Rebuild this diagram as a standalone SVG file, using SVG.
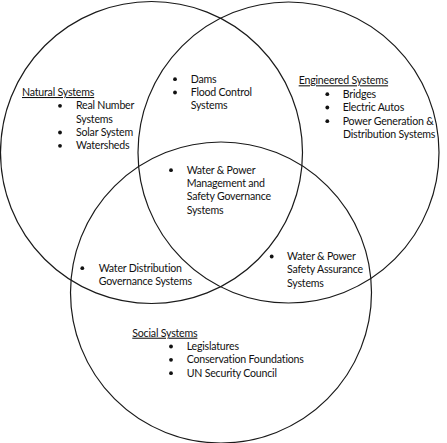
<svg xmlns="http://www.w3.org/2000/svg" width="447" height="443" viewBox="0 0 447 443">
<style>
.c{fill:none;stroke:#1a1a1a;stroke-width:1.2}
text{font-family:Lato,"Open Sans",sans-serif;font-size:10.6px;letter-spacing:-0.2px;fill:#111}
.h{text-decoration:underline}
.b{fill:#111}
</style>
<rect width="447" height="443" fill="#fff"/>
<g id="connectors"></g>
<g id="natural">
<circle class="c" cx="151.5" cy="152.5" r="151"/>
<text class="h" x="22" y="96">Natural Systems</text>
<circle class="b" cx="60" cy="105.8" r="1.9"/><text x="76" y="109.3">Real Number</text>
<text x="76" y="122.6">Systems</text>
<circle class="b" cx="60" cy="132.5" r="1.9"/><text x="76" y="136">Solar System</text>
<circle class="b" cx="60" cy="145.8" r="1.9"/><text x="76" y="149.3">Watersheds</text>
</g>
<g id="engineered">
<circle class="c" cx="288.5" cy="152.5" r="150.5"/>
<text class="h" x="298.7" y="84.3">Engineered Systems</text>
<circle class="b" cx="327.3" cy="94.2" r="1.9"/><text x="342.7" y="97.7">Bridges</text>
<circle class="b" cx="327.3" cy="107.5" r="1.9"/><text x="342.7" y="111">Electric Autos</text>
<circle class="b" cx="327.3" cy="121.2" r="1.9"/><text x="342.7" y="124.7">Power Generation &amp;</text>
<text x="343" y="138">Distribution Systems</text>
</g>
<g id="social">
<circle class="c" cx="221" cy="292.5" r="150.5"/>
<text class="h" x="132.3" y="336.7">Social Systems</text>
<circle class="b" cx="171" cy="346.5" r="1.9"/><text x="186.7" y="350">Legislatures</text>
<circle class="b" cx="171" cy="359.8" r="1.9"/><text x="186.7" y="363.3">Conservation Foundations</text>
<circle class="b" cx="171" cy="373.2" r="1.9"/><text x="186.7" y="376.7">UN Security Council</text>
</g>
<g id="natural-engineered">
<circle class="b" cx="175" cy="79.2" r="1.9"/><text x="190.7" y="82.7">Dams</text>
<circle class="b" cx="175" cy="92.5" r="1.9"/><text x="190.7" y="96">Flood Control</text>
<text x="190.7" y="109.3">Systems</text>
</g>
<g id="center">
<circle class="b" cx="171" cy="170.2" r="1.9"/><text x="186.7" y="173.7">Water &amp; Power</text>
<text x="186.7" y="187">Management and</text>
<text x="186.7" y="200.3">Safety Governance</text>
<text x="186.7" y="213.6">Systems</text>
</g>
<g id="natural-social">
<circle class="b" cx="82.3" cy="268.2" r="1.9"/><text x="98.7" y="271.7">Water Distribution</text>
<text x="98.7" y="285">Governance Systems</text>
</g>
<g id="engineered-social">
<circle class="b" cx="271.7" cy="256.5" r="1.9"/><text x="287" y="260">Water &amp; Power</text>
<text x="287" y="273.3">Safety Assurance</text>
<text x="287" y="286.6">Systems</text>
</g>
</svg>
